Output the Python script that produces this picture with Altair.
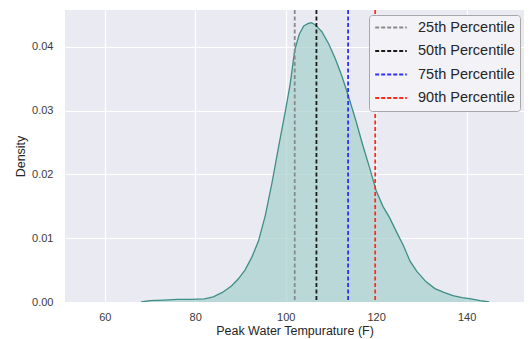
import altair as alt
import pandas as pd

# KDE curve
temp = [68, 70, 73, 76, 79, 82, 84, 86, 88, 89.5, 91, 92.5, 94, 95.5, 97, 98.5, 100, 101, 102, 103, 104,
        105, 105.7, 106.5, 108, 109.5, 111, 112.5, 114, 115.5, 117, 118.5, 120, 121.5, 123, 124.5, 126,
        127.5, 129, 131, 133, 135, 137, 139, 141, 143, 145]
density = [0.0000, 0.0002, 0.0003, 0.0004, 0.0004, 0.0005, 0.0008, 0.0015, 0.0025, 0.0036, 0.0050,
           0.0070, 0.0096, 0.0136, 0.0188, 0.0246, 0.0302, 0.0342, 0.0395, 0.0420, 0.0433, 0.0437,
           0.0438, 0.0435, 0.0424, 0.0405, 0.0381, 0.0353, 0.0320, 0.0285, 0.0247, 0.0212, 0.0175,
           0.0150, 0.0132, 0.0110, 0.0089, 0.0064, 0.0048, 0.0032, 0.0021, 0.0015, 0.0010, 0.0007,
           0.0005, 0.0002, 0.0000]

pct_labels = ["25th Percentile", "50th Percentile", "75th Percentile", "90th Percentile"]
pct_values = [102.0, 106.8, 113.8, 119.8]
pct_colors = ["#8a8a8a", "#1a1a1a", "#3030ff", "#ff2a1a"]

x_ticks = [60, 80, 100, 120, 140]
y_ticks = [0.0, 0.01, 0.02, 0.03, 0.04]

kde = pd.DataFrame({"temp": temp, "density": density})
pct = pd.DataFrame({"label": pct_labels, "value": pct_values})

FONT = "Liberation Sans"
xscale = alt.Scale(domain=[51.2, 152.7], nice=False, zero=False)
yscale = alt.Scale(domain=[0, 0.0458], nice=False, zero=False)

x_axis = alt.Axis(values=x_ticks, title="Peak Water Tempurature (F)", labelPadding=9,
                  titleBaseline="middle", titleY=28, titleFontWeight="normal")
y_axis = alt.Axis(values=y_ticks, format=".2f", title="Density", labelPadding=12,
                  titleX=-45, titleY=146, titleBaseline="middle", titleFontWeight="normal")

area = alt.Chart(kde).mark_area(
    color="#a6d0cf", line={"color": "#3f8f86", "strokeWidth": 1.3}, clip=True
).encode(
    x=alt.X("temp:Q", scale=xscale, axis=x_axis),
    y=alt.Y("density:Q", scale=yscale, axis=y_axis),
)

rules = alt.Chart(pct).mark_rule(strokeDash=[4, 2.5], strokeWidth=1.8, clip=True).encode(
    x=alt.X("value:Q", scale=xscale),
    color=alt.Color(
        "label:N",
        scale=alt.Scale(domain=pct_labels, range=pct_colors),
        legend=alt.Legend(
            title=None, orient="none", legendX=304, legendY=5,
            symbolType="stroke", symbolDash=[4, 2], symbolStrokeWidth=2,
            symbolSize=1000, clipHeight=15, labelFontSize=14.5, labelFont=FONT, labelColor="#262626",
            labelOffset=10, rowPadding=7.5, padding=5,
            fillColor="#f3f3f7", strokeColor="#a8a8a8", cornerRadius=3,
        ),
    ),
)

chart = alt.layer(area, rules).properties(
    width=459, height=292,
    background="#ffffff",
    autosize=alt.AutoSizeParams(type="none"),
    padding={"left": 57, "top": 2, "right": 0, "bottom": 37},
).configure_view(
    fill="#eaeaf2", stroke=None
).configure_axis(
    grid=True, gridColor="#ffffff", gridWidth=1.2, domain=False, ticks=False,
    labelFont=FONT, titleFont=FONT, labelFontSize=11, titleFontSize=12.5,
    labelColor="#3a3a3a", titleColor="#262626",
)

chart.save("out.html", embed_options={"renderer": "svg", "actions": False})
